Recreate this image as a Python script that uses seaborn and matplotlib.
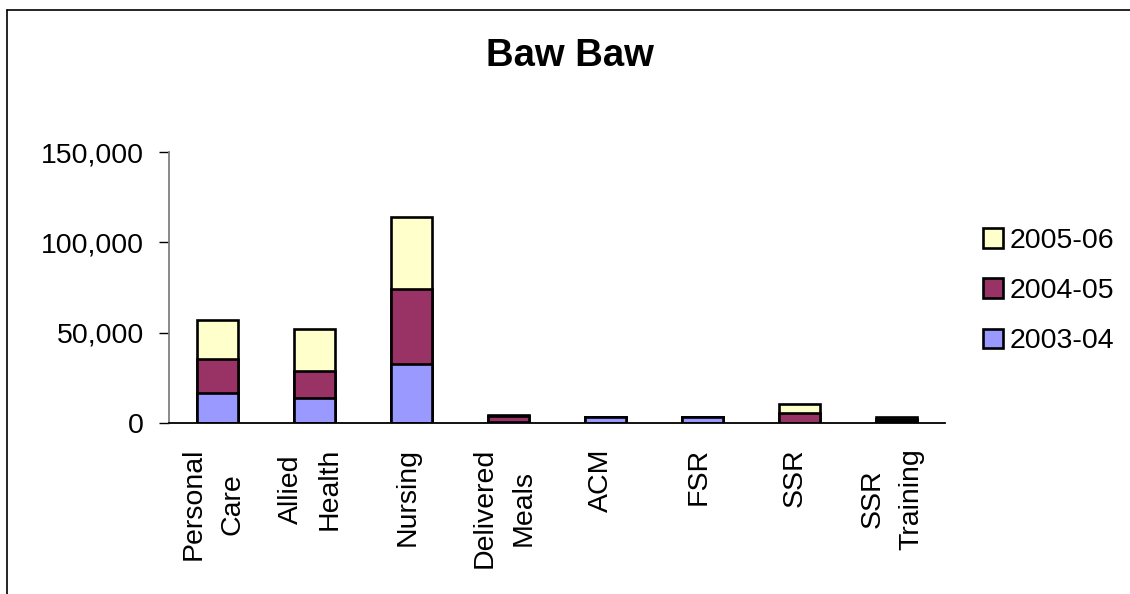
import matplotlib
matplotlib.use("Agg")
import matplotlib.pyplot as plt
from matplotlib.patches import Patch
from matplotlib.lines import Line2D
from matplotlib.ticker import FuncFormatter
import numpy as np
import seaborn as sns

# Service categories and annual output per financial year
categories = ["Personal\nCare", "Allied\nHealth", "Nursing", "Delivered\nMeals",
              "ACM", "FSR", "SSR", "SSR\nTraining"]
years = ["2003-04", "2004-05", "2005-06"]
v_2003_04 = [16800, 14000, 32800, 500, 3100, 3100, 0, 1000]
v_2004_05 = [18800, 15000, 41400, 3500, 0, 0, 5300, 1000]
v_2005_06 = [21400, 22900, 40000, 400, 0, 0, 5300, 1100]
colors = ["#9999FF", "#993366", "#FFFFCC"]

sns.set_theme(style="white")
plt.rcParams["font.family"] = ["Liberation Sans", "DejaVu Sans"]
plt.rcParams["text.color"] = "black"
plt.rcParams["xtick.color"] = "black"
plt.rcParams["ytick.color"] = "black"
plt.rcParams["xtick.labelcolor"] = "black"
plt.rcParams["ytick.labelcolor"] = "black"

fig = plt.figure(figsize=(11.3, 5.94), dpi=100)
ax = fig.add_axes([169 / 1130, 1 - 423 / 594, (945 - 169) / 1130, (423 - 152) / 594])

# Stack by drawing cumulative totals, tallest first
series = [np.array(v_2003_04), np.array(v_2004_05), np.array(v_2005_06)]
cum = np.cumsum(series, axis=0)
for i in range(len(series) - 1, -1, -1):
    sns.barplot(x=list(range(len(categories))), y=cum[i], color=colors[i],
                saturation=1, width=0.42, edgecolor="black", linewidth=1.9,
                errorbar=None, ax=ax)

ax.set_xlim(-0.5, len(categories) - 0.5)
ax.set_ylim(0, 150000)
ax.set_yticks([0, 50000, 100000, 150000])
ax.yaxis.set_major_formatter(FuncFormatter(lambda v, p: f"{int(v):,}"))
# Category labels (major ticks are hidden, label blocks sit slightly left of centre)
ax.set_xticks(np.arange(len(categories)) - 0.045)
ax.set_xticklabels(categories, rotation=90, ha="center", va="top",
                   multialignment="center", linespacing=1.65)
ax.set_xlabel("")
ax.set_ylabel("")

for side in ["top", "right"]:
    ax.spines[side].set_visible(False)
ax.spines["left"].set_color("#808080")
ax.spines["left"].set_linewidth(1.3)
ax.spines["bottom"].set_color("black")
ax.spines["bottom"].set_linewidth(1.3)

ax.tick_params(axis="y", direction="out", length=7, width=1, color="black",
               pad=11, labelsize=20.5, left=True)
ax.tick_params(axis="x", direction="out", length=7, width=1, color="#404040",
               pad=10, labelsize=20.5, bottom=True)

# Visible ticks between categories along the x axis
ax.set_xticks(np.arange(-0.5, len(categories), 1.0), minor=True)
ax.tick_params(axis="x", which="minor", length=7, width=1, color="#404040")
ax.tick_params(axis="x", which="major", length=0, pad=18)

fig.text(570 / 1130, 1 - 56 / 594, "Baw Baw", ha="center", va="center",
         fontsize=27.5, fontweight="bold", color="black")

handles = [Patch(facecolor=colors[i], edgecolor="black", linewidth=1.9, label=years[i])
           for i in range(len(years) - 1, -1, -1)]
fig.legend(handles=handles, loc="center left", bbox_to_anchor=(969 / 1130, 1 - 291 / 594),
           frameon=False, fontsize=20.5, handlelength=0.7, handleheight=0.7,
           handletextpad=0.22, labelspacing=0.86, borderpad=0)

# Outer chart border
fig.add_artist(Line2D([7 / 1130, 7 / 1130], [0, 1 - 9.5 / 594], color="black", linewidth=1.2))
fig.add_artist(Line2D([7 / 1130, 1], [1 - 9.5 / 594, 1 - 9.5 / 594], color="black", linewidth=1.2))

fig.savefig("out.png", dpi=100, facecolor="white")
